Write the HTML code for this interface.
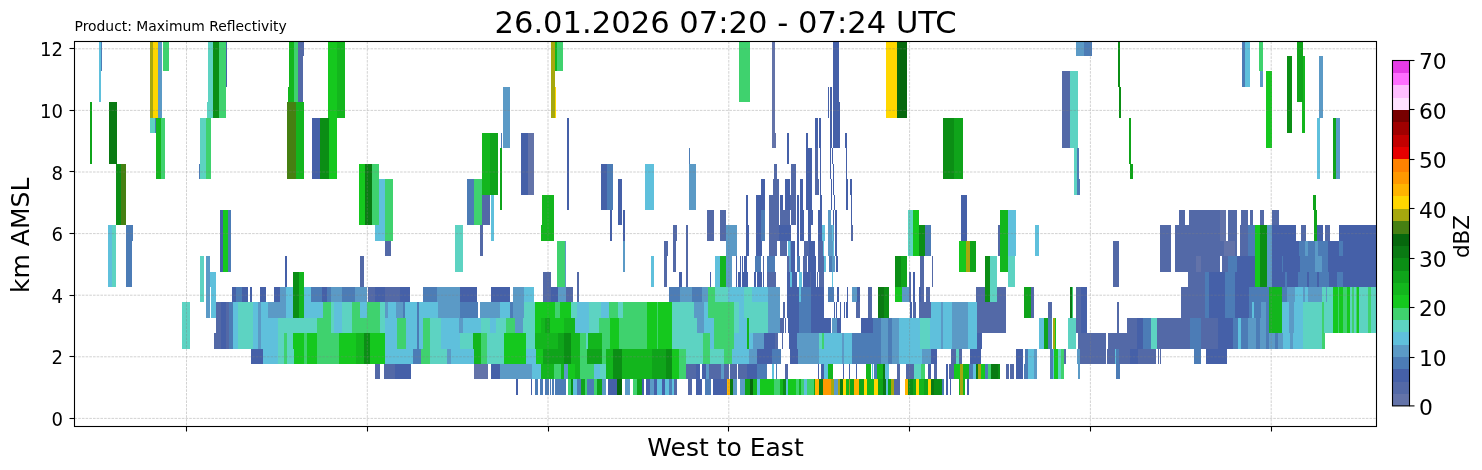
<!DOCTYPE html>
<html lang="en"><head><meta charset="utf-8"><title>Maximum Reflectivity cross-section</title>
<style>html,body{margin:0;padding:0;background:#fff}body{width:1482px;height:470px;overflow:hidden}svg{display:block}text{font-family:"DejaVu Sans","Liberation Sans",sans-serif;fill:#000}</style></head><body>
<svg width="1482" height="470" viewBox="0 0 1482 470">
<rect width="1482" height="470" fill="#fff"/>
<g shape-rendering="crispEdges">
<rect x="99" y="42" width="2" height="60" fill="#5fc0dc"/>
<rect x="101" y="42" width="1" height="29" fill="#4c7cb6"/>
<rect x="90" y="102" width="2" height="62" fill="#0fa41a"/>
<rect x="109" y="102" width="8" height="62" fill="#0a7a13"/>
<rect x="116" y="164" width="5" height="61" fill="#0b8e15"/>
<rect x="121" y="164" width="5" height="61" fill="#468012"/>
<rect x="150" y="42" width="3" height="76" fill="#a6a80e"/>
<rect x="153" y="42" width="5" height="76" fill="#ffd700"/>
<rect x="158" y="42" width="4" height="76" fill="#5b9ac6"/>
<rect x="163" y="42" width="6" height="29" fill="#3fd26e"/>
<rect x="150" y="118" width="5" height="15" fill="#5dd3c2"/>
<rect x="155" y="118" width="1" height="15" fill="#4c7cb6"/>
<rect x="156" y="118" width="5" height="61" fill="#13b61d"/>
<rect x="161" y="118" width="4" height="61" fill="#3fd26e"/>
<rect x="200" y="118" width="6" height="61" fill="#5dd3c2"/>
<rect x="206" y="118" width="5" height="61" fill="#3fd26e"/>
<rect x="199" y="164" width="1" height="15" fill="#4c7cb6"/>
<rect x="207" y="102" width="1" height="16" fill="#5dd3c2"/>
<rect x="208" y="42" width="5" height="76" fill="#5dd3c2"/>
<rect x="213" y="42" width="6" height="76" fill="#0b8e15"/>
<rect x="219" y="42" width="7" height="76" fill="#3fd26e"/>
<rect x="226" y="42" width="1" height="45" fill="#4560a8"/>
<rect x="289" y="42" width="5" height="60" fill="#13b61d"/>
<rect x="288" y="87" width="1" height="15" fill="#13b61d"/>
<rect x="294" y="42" width="4" height="60" fill="#3fd26e"/>
<rect x="298" y="42" width="5" height="60" fill="#5369a7"/>
<rect x="303" y="42" width="1" height="14" fill="#5369a7"/>
<rect x="287" y="102" width="9" height="77" fill="#468012"/>
<rect x="296" y="102" width="8" height="77" fill="#13b61d"/>
<rect x="312" y="118" width="8" height="61" fill="#4560a8"/>
<rect x="108" y="225" width="4" height="62" fill="#5fc0dc"/>
<rect x="112" y="225" width="4" height="62" fill="#5dd3c2"/>
<rect x="126" y="225" width="6" height="62" fill="#4c7cb6"/>
<rect x="132" y="225" width="1" height="16" fill="#4c7cb6"/>
<rect x="200" y="256" width="4" height="46" fill="#5dd3c2"/>
<rect x="206" y="256" width="4" height="62" fill="#5b9ac6"/>
<rect x="211" y="287" width="5" height="31" fill="#5fc0dc"/>
<rect x="210" y="272" width="6" height="15" fill="#5fc0dc"/>
<rect x="220" y="210" width="3" height="62" fill="#4560a8"/>
<rect x="223" y="210" width="5" height="62" fill="#15c81e"/>
<rect x="228" y="210" width="3" height="62" fill="#4c7cb6"/>
<rect x="285" y="256" width="2" height="31" fill="#4560a8"/>
<rect x="293" y="272" width="6" height="46" fill="#0b8e15"/>
<rect x="299" y="272" width="5" height="46" fill="#13b61d"/>
<rect x="182" y="302" width="8" height="47" fill="#5dd3c2"/>
<rect x="232" y="287" width="4" height="15" fill="#4560a8"/>
<rect x="236" y="287" width="6" height="15" fill="#4c7cb6"/>
<rect x="242" y="287" width="6" height="15" fill="#4560a8"/>
<rect x="250" y="287" width="2" height="15" fill="#4560a8"/>
<rect x="260" y="287" width="6" height="15" fill="#4560a8"/>
<rect x="274" y="287" width="6" height="15" fill="#4560a8"/>
<rect x="280" y="287" width="6" height="15" fill="#5b9ac6"/>
<rect x="286" y="287" width="7" height="15" fill="#5fc0dc"/>
<rect x="304" y="287" width="7" height="15" fill="#5fc0dc"/>
<rect x="311" y="287" width="6" height="15" fill="#4c7cb6"/>
<rect x="216" y="302" width="5" height="16" fill="#5369a7"/>
<rect x="221" y="302" width="5" height="16" fill="#4560a8"/>
<rect x="226" y="302" width="3" height="16" fill="#5369a7"/>
<rect x="229" y="302" width="4" height="16" fill="#4c7cb6"/>
<rect x="233" y="302" width="5" height="16" fill="#5fc0dc"/>
<rect x="238" y="302" width="15" height="16" fill="#5dd3c2"/>
<rect x="253" y="302" width="5" height="16" fill="#5fc0dc"/>
<rect x="258" y="302" width="3" height="16" fill="#5b9ac6"/>
<rect x="261" y="302" width="7" height="16" fill="#5fc0dc"/>
<rect x="268" y="302" width="18" height="16" fill="#5b9ac6"/>
<rect x="286" y="302" width="7" height="16" fill="#5fc0dc"/>
<rect x="304" y="302" width="13" height="16" fill="#5fc0dc"/>
<rect x="216" y="318" width="5" height="15" fill="#5369a7"/>
<rect x="221" y="318" width="5" height="15" fill="#4560a8"/>
<rect x="226" y="318" width="3" height="15" fill="#5369a7"/>
<rect x="229" y="318" width="4" height="15" fill="#4c7cb6"/>
<rect x="233" y="318" width="5" height="15" fill="#5fc0dc"/>
<rect x="238" y="318" width="15" height="15" fill="#5dd3c2"/>
<rect x="253" y="318" width="5" height="15" fill="#5fc0dc"/>
<rect x="258" y="318" width="3" height="15" fill="#5b9ac6"/>
<rect x="261" y="318" width="17" height="15" fill="#5fc0dc"/>
<rect x="278" y="318" width="39" height="15" fill="#5dd3c2"/>
<rect x="214" y="333" width="7" height="16" fill="#5369a7"/>
<rect x="221" y="333" width="5" height="16" fill="#4560a8"/>
<rect x="226" y="333" width="3" height="16" fill="#5369a7"/>
<rect x="229" y="333" width="4" height="16" fill="#4c7cb6"/>
<rect x="233" y="333" width="5" height="16" fill="#5fc0dc"/>
<rect x="238" y="333" width="15" height="16" fill="#5dd3c2"/>
<rect x="253" y="333" width="5" height="16" fill="#5fc0dc"/>
<rect x="258" y="333" width="3" height="16" fill="#5b9ac6"/>
<rect x="261" y="333" width="17" height="16" fill="#5fc0dc"/>
<rect x="278" y="333" width="6" height="16" fill="#5dd3c2"/>
<rect x="284" y="333" width="3" height="16" fill="#3fd26e"/>
<rect x="287" y="333" width="6" height="16" fill="#5dd3c2"/>
<rect x="293" y="333" width="11" height="16" fill="#15c81e"/>
<rect x="304" y="333" width="3" height="16" fill="#3fd26e"/>
<rect x="307" y="333" width="10" height="16" fill="#15c81e"/>
<rect x="251" y="349" width="12" height="15" fill="#4560a8"/>
<rect x="263" y="349" width="15" height="15" fill="#5fc0dc"/>
<rect x="278" y="349" width="6" height="15" fill="#5dd3c2"/>
<rect x="284" y="349" width="3" height="15" fill="#3fd26e"/>
<rect x="287" y="349" width="7" height="15" fill="#5dd3c2"/>
<rect x="294" y="349" width="10" height="15" fill="#15c81e"/>
<rect x="304" y="349" width="3" height="15" fill="#3fd26e"/>
<rect x="307" y="349" width="10" height="15" fill="#15c81e"/>
<rect x="328" y="42" width="9" height="76" fill="#15c81e"/>
<rect x="337" y="42" width="8" height="76" fill="#13b61d"/>
<rect x="320" y="118" width="9" height="61" fill="#0b8e15"/>
<rect x="329" y="118" width="8" height="61" fill="#15c81e"/>
<rect x="503" y="87" width="7" height="61" fill="#5b9ac6"/>
<rect x="551" y="42" width="4" height="45" fill="#a6a80e"/>
<rect x="551" y="87" width="4" height="31" fill="#a6a80e"/>
<rect x="555" y="87" width="1" height="31" fill="#ffd700"/>
<rect x="555" y="42" width="2" height="29" fill="#13b61d"/>
<rect x="557" y="42" width="6" height="29" fill="#3fd26e"/>
<rect x="359" y="164" width="6" height="61" fill="#15c81e"/>
<rect x="365" y="164" width="7" height="61" fill="#0a7a13"/>
<rect x="372" y="164" width="7" height="61" fill="#3fd26e"/>
<rect x="379" y="179" width="6" height="62" fill="#5fc0dc"/>
<rect x="375" y="225" width="4" height="16" fill="#5fc0dc"/>
<rect x="385" y="179" width="8" height="62" fill="#3fd26e"/>
<rect x="385" y="241" width="6" height="15" fill="#5369a7"/>
<rect x="360" y="256" width="4" height="31" fill="#5369a7"/>
<rect x="455" y="225" width="8" height="47" fill="#5dd3c2"/>
<rect x="467" y="179" width="7" height="46" fill="#4c7cb6"/>
<rect x="474" y="179" width="8" height="46" fill="#3fd26e"/>
<rect x="482" y="195" width="8" height="30" fill="#5369a7"/>
<rect x="482" y="133" width="8" height="62" fill="#13b61d"/>
<rect x="490" y="133" width="8" height="62" fill="#0fa41a"/>
<rect x="480" y="225" width="3" height="31" fill="#5369a7"/>
<rect x="491" y="195" width="3" height="46" fill="#5fc0dc"/>
<rect x="500" y="148" width="2" height="62" fill="#0fa41a"/>
<rect x="501" y="133" width="1" height="15" fill="#4c7cb6"/>
<rect x="521" y="133" width="7" height="62" fill="#4560a8"/>
<rect x="528" y="133" width="6" height="62" fill="#6373a9"/>
<rect x="542" y="195" width="12" height="30" fill="#13b61d"/>
<rect x="541" y="225" width="13" height="16" fill="#13b61d"/>
<rect x="557" y="241" width="8" height="46" fill="#3fd26e"/>
<rect x="565" y="241" width="1" height="61" fill="#5b9ac6"/>
<rect x="543" y="272" width="8" height="15" fill="#5369a7"/>
<rect x="317" y="287" width="5" height="15" fill="#4c7cb6"/>
<rect x="322" y="287" width="5" height="15" fill="#4560a8"/>
<rect x="327" y="287" width="4" height="15" fill="#4c7cb6"/>
<rect x="331" y="287" width="11" height="15" fill="#5b9ac6"/>
<rect x="342" y="287" width="7" height="15" fill="#4c7cb6"/>
<rect x="349" y="287" width="6" height="15" fill="#4c7cb6"/>
<rect x="355" y="287" width="12" height="15" fill="#5b9ac6"/>
<rect x="368" y="287" width="7" height="15" fill="#5369a7"/>
<rect x="375" y="287" width="10" height="15" fill="#4560a8"/>
<rect x="385" y="287" width="15" height="15" fill="#5369a7"/>
<rect x="400" y="287" width="10" height="15" fill="#4560a8"/>
<rect x="423" y="287" width="14" height="15" fill="#4c7cb6"/>
<rect x="437" y="287" width="23" height="15" fill="#5b9ac6"/>
<rect x="460" y="287" width="17" height="15" fill="#4560a8"/>
<rect x="491" y="287" width="19" height="15" fill="#4560a8"/>
<rect x="513" y="287" width="11" height="15" fill="#5b9ac6"/>
<rect x="524" y="287" width="10" height="15" fill="#5fc0dc"/>
<rect x="543" y="287" width="8" height="15" fill="#5369a7"/>
<rect x="551" y="287" width="7" height="15" fill="#4560a8"/>
<rect x="558" y="287" width="6" height="15" fill="#5b9ac6"/>
<rect x="317" y="302" width="6" height="16" fill="#5fc0dc"/>
<rect x="323" y="302" width="8" height="16" fill="#3fd26e"/>
<rect x="331" y="302" width="3" height="16" fill="#5dd3c2"/>
<rect x="334" y="302" width="8" height="16" fill="#5fc0dc"/>
<rect x="342" y="302" width="10" height="16" fill="#5dd3c2"/>
<rect x="352" y="302" width="8" height="16" fill="#3fd26e"/>
<rect x="360" y="302" width="7" height="16" fill="#5fc0dc"/>
<rect x="367" y="302" width="13" height="16" fill="#3fd26e"/>
<rect x="380" y="302" width="5" height="16" fill="#5dd3c2"/>
<rect x="385" y="302" width="3" height="16" fill="#5b9ac6"/>
<rect x="388" y="302" width="8" height="16" fill="#5fc0dc"/>
<rect x="396" y="302" width="7" height="16" fill="#5b9ac6"/>
<rect x="403" y="302" width="2" height="16" fill="#4c7cb6"/>
<rect x="405" y="302" width="12" height="16" fill="#5fc0dc"/>
<rect x="417" y="302" width="2" height="16" fill="#4c7cb6"/>
<rect x="419" y="302" width="19" height="16" fill="#5fc0dc"/>
<rect x="438" y="302" width="22" height="16" fill="#5b9ac6"/>
<rect x="460" y="302" width="18" height="16" fill="#4c7cb6"/>
<rect x="480" y="302" width="20" height="16" fill="#5b9ac6"/>
<rect x="500" y="302" width="10" height="16" fill="#5fc0dc"/>
<rect x="510" y="302" width="3" height="16" fill="#4c7cb6"/>
<rect x="513" y="302" width="11" height="16" fill="#5b9ac6"/>
<rect x="524" y="302" width="11" height="16" fill="#5dd3c2"/>
<rect x="535" y="302" width="20" height="16" fill="#15c81e"/>
<rect x="555" y="302" width="5" height="16" fill="#3fd26e"/>
<rect x="560" y="302" width="4" height="16" fill="#15c81e"/>
<rect x="317" y="318" width="14" height="15" fill="#3fd26e"/>
<rect x="331" y="318" width="3" height="15" fill="#5dd3c2"/>
<rect x="334" y="318" width="8" height="15" fill="#5fc0dc"/>
<rect x="342" y="318" width="10" height="15" fill="#5dd3c2"/>
<rect x="352" y="318" width="28" height="15" fill="#3fd26e"/>
<rect x="380" y="318" width="5" height="15" fill="#5dd3c2"/>
<rect x="385" y="318" width="12" height="15" fill="#5fc0dc"/>
<rect x="397" y="318" width="9" height="15" fill="#3fd26e"/>
<rect x="406" y="318" width="11" height="15" fill="#5fc0dc"/>
<rect x="417" y="318" width="2" height="15" fill="#4c7cb6"/>
<rect x="419" y="318" width="4" height="15" fill="#5fc0dc"/>
<rect x="423" y="318" width="7" height="15" fill="#3fd26e"/>
<rect x="430" y="318" width="11" height="15" fill="#5dd3c2"/>
<rect x="441" y="318" width="18" height="15" fill="#5fc0dc"/>
<rect x="459" y="318" width="4" height="15" fill="#5b9ac6"/>
<rect x="463" y="318" width="18" height="15" fill="#5fc0dc"/>
<rect x="481" y="318" width="9" height="15" fill="#5dd3c2"/>
<rect x="490" y="318" width="6" height="15" fill="#5fc0dc"/>
<rect x="496" y="318" width="10" height="15" fill="#5dd3c2"/>
<rect x="506" y="318" width="9" height="15" fill="#3fd26e"/>
<rect x="515" y="318" width="8" height="15" fill="#5b9ac6"/>
<rect x="523" y="318" width="12" height="15" fill="#5dd3c2"/>
<rect x="535" y="318" width="6" height="15" fill="#15c81e"/>
<rect x="541" y="318" width="4" height="15" fill="#13b61d"/>
<rect x="545" y="318" width="5" height="15" fill="#0fa41a"/>
<rect x="550" y="318" width="14" height="15" fill="#15c81e"/>
<rect x="317" y="333" width="22" height="16" fill="#3fd26e"/>
<rect x="339" y="333" width="17" height="16" fill="#15c81e"/>
<rect x="356" y="333" width="8" height="16" fill="#13b61d"/>
<rect x="364" y="333" width="6" height="16" fill="#0b8e15"/>
<rect x="370" y="333" width="15" height="16" fill="#15c81e"/>
<rect x="385" y="333" width="12" height="16" fill="#5fc0dc"/>
<rect x="397" y="333" width="9" height="16" fill="#3fd26e"/>
<rect x="406" y="333" width="11" height="16" fill="#5fc0dc"/>
<rect x="417" y="333" width="2" height="16" fill="#4c7cb6"/>
<rect x="419" y="333" width="4" height="16" fill="#5fc0dc"/>
<rect x="423" y="333" width="7" height="16" fill="#3fd26e"/>
<rect x="430" y="333" width="11" height="16" fill="#5dd3c2"/>
<rect x="441" y="333" width="19" height="16" fill="#5fc0dc"/>
<rect x="460" y="333" width="13" height="16" fill="#5dd3c2"/>
<rect x="473" y="333" width="8" height="16" fill="#13b61d"/>
<rect x="481" y="333" width="6" height="16" fill="#3fd26e"/>
<rect x="487" y="333" width="17" height="16" fill="#5dd3c2"/>
<rect x="504" y="333" width="22" height="16" fill="#15c81e"/>
<rect x="526" y="333" width="9" height="16" fill="#5dd3c2"/>
<rect x="535" y="333" width="15" height="16" fill="#13b61d"/>
<rect x="550" y="333" width="8" height="16" fill="#13b61d"/>
<rect x="558" y="333" width="6" height="16" fill="#0fa41a"/>
<rect x="317" y="349" width="22" height="15" fill="#3fd26e"/>
<rect x="339" y="349" width="17" height="15" fill="#15c81e"/>
<rect x="356" y="349" width="8" height="15" fill="#13b61d"/>
<rect x="364" y="349" width="6" height="15" fill="#0b8e15"/>
<rect x="370" y="349" width="15" height="15" fill="#15c81e"/>
<rect x="385" y="349" width="28" height="15" fill="#5fc0dc"/>
<rect x="413" y="349" width="8" height="15" fill="#4c7cb6"/>
<rect x="421" y="349" width="9" height="15" fill="#3fd26e"/>
<rect x="430" y="349" width="17" height="15" fill="#5dd3c2"/>
<rect x="447" y="349" width="4" height="15" fill="#5b9ac6"/>
<rect x="451" y="349" width="23" height="15" fill="#5fc0dc"/>
<rect x="474" y="349" width="7" height="15" fill="#13b61d"/>
<rect x="481" y="349" width="6" height="15" fill="#3fd26e"/>
<rect x="487" y="349" width="17" height="15" fill="#5dd3c2"/>
<rect x="504" y="349" width="22" height="15" fill="#15c81e"/>
<rect x="526" y="349" width="10" height="15" fill="#5fc0dc"/>
<rect x="536" y="349" width="7" height="15" fill="#15c81e"/>
<rect x="543" y="349" width="21" height="15" fill="#0fa41a"/>
<rect x="375" y="364" width="5" height="15" fill="#5369a7"/>
<rect x="384" y="364" width="11" height="15" fill="#5369a7"/>
<rect x="395" y="364" width="16" height="15" fill="#4560a8"/>
<rect x="474" y="364" width="14" height="15" fill="#6373a9"/>
<rect x="491" y="364" width="9" height="15" fill="#4560a8"/>
<rect x="500" y="364" width="32" height="15" fill="#5b9ac6"/>
<rect x="532" y="364" width="9" height="15" fill="#5fc0dc"/>
<rect x="541" y="364" width="13" height="15" fill="#13b61d"/>
<rect x="554" y="364" width="7" height="15" fill="#3fd26e"/>
<rect x="561" y="364" width="3" height="15" fill="#13b61d"/>
<rect x="516" y="379" width="2" height="16" fill="#4560a8"/>
<rect x="531" y="379" width="1" height="16" fill="#4560a8"/>
<rect x="535" y="379" width="3" height="16" fill="#4c7cb6"/>
<rect x="540" y="379" width="3" height="16" fill="#4c7cb6"/>
<rect x="545" y="379" width="4" height="16" fill="#4c7cb6"/>
<rect x="550" y="379" width="1" height="16" fill="#4c7cb6"/>
<rect x="552" y="379" width="2" height="16" fill="#4c7cb6"/>
<rect x="555" y="379" width="9" height="16" fill="#4c7cb6"/>
<rect x="739" y="42" width="11" height="60" fill="#3fd26e"/>
<rect x="772" y="42" width="3" height="91" fill="#6373a9"/>
<rect x="772" y="133" width="4" height="15" fill="#6373a9"/>
<rect x="567" y="118" width="2" height="92" fill="#4560a8"/>
<rect x="567" y="164" width="2" height="15" fill="#4560a8"/>
<rect x="601" y="164" width="6" height="46" fill="#4560a8"/>
<rect x="607" y="164" width="6" height="46" fill="#4c7cb6"/>
<rect x="610" y="210" width="2" height="31" fill="#4560a8"/>
<rect x="618" y="179" width="4" height="46" fill="#4560a8"/>
<rect x="623" y="210" width="2" height="31" fill="#4560a8"/>
<rect x="623" y="241" width="2" height="31" fill="#5b9ac6"/>
<rect x="645" y="164" width="9" height="46" fill="#5fc0dc"/>
<rect x="689" y="164" width="7" height="46" fill="#5b9ac6"/>
<rect x="689" y="148" width="1" height="16" fill="#4c7cb6"/>
<rect x="651" y="256" width="3" height="31" fill="#5fc0dc"/>
<rect x="664" y="241" width="4" height="15" fill="#5369a7"/>
<rect x="664" y="256" width="3" height="31" fill="#5369a7"/>
<rect x="673" y="225" width="4" height="16" fill="#5369a7"/>
<rect x="673" y="241" width="3" height="31" fill="#5369a7"/>
<rect x="679" y="272" width="3" height="15" fill="#4560a8"/>
<rect x="686" y="225" width="2" height="62" fill="#5369a7"/>
<rect x="707" y="210" width="7" height="31" fill="#5369a7"/>
<rect x="720" y="210" width="6" height="31" fill="#5369a7"/>
<rect x="726" y="225" width="11" height="31" fill="#5b9ac6"/>
<rect x="726" y="256" width="6" height="31" fill="#5b9ac6"/>
<rect x="715" y="256" width="5" height="31" fill="#5fc0dc"/>
<rect x="720" y="256" width="6" height="31" fill="#13b61d"/>
<rect x="710" y="272" width="1" height="15" fill="#4560a8"/>
<rect x="577" y="272" width="2" height="30" fill="#5369a7"/>
<rect x="736" y="256" width="1" height="16" fill="#4560a8"/>
<rect x="740" y="256" width="1" height="16" fill="#4560a8"/>
<rect x="742" y="256" width="1" height="16" fill="#4560a8"/>
<rect x="744" y="256" width="2" height="16" fill="#4560a8"/>
<rect x="736" y="272" width="1" height="15" fill="#4560a8"/>
<rect x="738" y="272" width="3" height="15" fill="#4560a8"/>
<rect x="742" y="272" width="6" height="15" fill="#4560a8"/>
<rect x="754" y="272" width="2" height="15" fill="#4560a8"/>
<rect x="757" y="272" width="5" height="15" fill="#4560a8"/>
<rect x="763" y="272" width="1" height="15" fill="#4560a8"/>
<rect x="767" y="272" width="9" height="15" fill="#5369a7"/>
<rect x="787" y="272" width="3" height="15" fill="#4560a8"/>
<rect x="790" y="272" width="2" height="15" fill="#5fc0dc"/>
<rect x="792" y="272" width="5" height="15" fill="#4560a8"/>
<rect x="799" y="272" width="3" height="15" fill="#5fc0dc"/>
<rect x="803" y="272" width="7" height="15" fill="#4560a8"/>
<rect x="810" y="272" width="1" height="15" fill="#5369a7"/>
<rect x="564" y="287" width="2" height="15" fill="#5b9ac6"/>
<rect x="566" y="287" width="7" height="15" fill="#5369a7"/>
<rect x="669" y="287" width="11" height="15" fill="#4c7cb6"/>
<rect x="680" y="287" width="12" height="15" fill="#5b9ac6"/>
<rect x="692" y="287" width="10" height="15" fill="#4c7cb6"/>
<rect x="702" y="287" width="6" height="15" fill="#5b9ac6"/>
<rect x="708" y="287" width="7" height="15" fill="#3fd26e"/>
<rect x="715" y="287" width="13" height="15" fill="#5dd3c2"/>
<rect x="728" y="287" width="16" height="15" fill="#5fc0dc"/>
<rect x="744" y="287" width="8" height="15" fill="#5dd3c2"/>
<rect x="752" y="287" width="16" height="15" fill="#5fc0dc"/>
<rect x="768" y="287" width="12" height="15" fill="#5b9ac6"/>
<rect x="787" y="287" width="12" height="15" fill="#4560a8"/>
<rect x="799" y="287" width="2" height="15" fill="#5fc0dc"/>
<rect x="801" y="287" width="10" height="15" fill="#4c7cb6"/>
<rect x="564" y="302" width="7" height="16" fill="#15c81e"/>
<rect x="571" y="302" width="6" height="16" fill="#5dd3c2"/>
<rect x="577" y="302" width="12" height="16" fill="#5fc0dc"/>
<rect x="589" y="302" width="12" height="16" fill="#5dd3c2"/>
<rect x="601" y="302" width="8" height="16" fill="#5fc0dc"/>
<rect x="609" y="302" width="9" height="16" fill="#3fd26e"/>
<rect x="618" y="302" width="5" height="16" fill="#5dd3c2"/>
<rect x="623" y="302" width="24" height="16" fill="#3fd26e"/>
<rect x="647" y="302" width="10" height="16" fill="#15c81e"/>
<rect x="657" y="302" width="1" height="16" fill="#3fd26e"/>
<rect x="658" y="302" width="14" height="16" fill="#15c81e"/>
<rect x="672" y="302" width="22" height="16" fill="#5dd3c2"/>
<rect x="694" y="302" width="10" height="16" fill="#5b9ac6"/>
<rect x="704" y="302" width="4" height="16" fill="#5fc0dc"/>
<rect x="708" y="302" width="26" height="16" fill="#3fd26e"/>
<rect x="734" y="302" width="5" height="16" fill="#5dd3c2"/>
<rect x="739" y="302" width="5" height="16" fill="#5fc0dc"/>
<rect x="744" y="302" width="24" height="16" fill="#5dd3c2"/>
<rect x="768" y="302" width="12" height="16" fill="#5b9ac6"/>
<rect x="783" y="302" width="2" height="16" fill="#5369a7"/>
<rect x="787" y="302" width="12" height="16" fill="#4560a8"/>
<rect x="799" y="302" width="12" height="16" fill="#4c7cb6"/>
<rect x="564" y="318" width="11" height="15" fill="#13b61d"/>
<rect x="575" y="318" width="14" height="15" fill="#5fc0dc"/>
<rect x="589" y="318" width="10" height="15" fill="#5dd3c2"/>
<rect x="599" y="318" width="11" height="15" fill="#3fd26e"/>
<rect x="610" y="318" width="9" height="15" fill="#15c81e"/>
<rect x="619" y="318" width="28" height="15" fill="#3fd26e"/>
<rect x="647" y="318" width="10" height="15" fill="#15c81e"/>
<rect x="657" y="318" width="1" height="15" fill="#3fd26e"/>
<rect x="658" y="318" width="14" height="15" fill="#15c81e"/>
<rect x="672" y="318" width="25" height="15" fill="#5dd3c2"/>
<rect x="697" y="318" width="7" height="15" fill="#5b9ac6"/>
<rect x="704" y="318" width="10" height="15" fill="#5fc0dc"/>
<rect x="714" y="318" width="20" height="15" fill="#3fd26e"/>
<rect x="734" y="318" width="5" height="15" fill="#5dd3c2"/>
<rect x="739" y="318" width="8" height="15" fill="#5fc0dc"/>
<rect x="747" y="318" width="2" height="15" fill="#13b61d"/>
<rect x="749" y="318" width="19" height="15" fill="#5dd3c2"/>
<rect x="768" y="318" width="12" height="15" fill="#5b9ac6"/>
<rect x="780" y="318" width="4" height="15" fill="#5369a7"/>
<rect x="785" y="318" width="1" height="15" fill="#5369a7"/>
<rect x="788" y="318" width="11" height="15" fill="#4560a8"/>
<rect x="799" y="318" width="12" height="15" fill="#4c7cb6"/>
<rect x="564" y="333" width="7" height="16" fill="#0b8e15"/>
<rect x="571" y="333" width="9" height="16" fill="#13b61d"/>
<rect x="580" y="333" width="6" height="16" fill="#3fd26e"/>
<rect x="586" y="333" width="2" height="16" fill="#5dd3c2"/>
<rect x="588" y="333" width="14" height="16" fill="#13b61d"/>
<rect x="602" y="333" width="8" height="16" fill="#3fd26e"/>
<rect x="610" y="333" width="9" height="16" fill="#15c81e"/>
<rect x="619" y="333" width="28" height="16" fill="#3fd26e"/>
<rect x="647" y="333" width="10" height="16" fill="#15c81e"/>
<rect x="657" y="333" width="1" height="16" fill="#3fd26e"/>
<rect x="658" y="333" width="14" height="16" fill="#15c81e"/>
<rect x="672" y="333" width="31" height="16" fill="#5dd3c2"/>
<rect x="703" y="333" width="7" height="16" fill="#3fd26e"/>
<rect x="710" y="333" width="4" height="16" fill="#5fc0dc"/>
<rect x="714" y="333" width="20" height="16" fill="#3fd26e"/>
<rect x="734" y="333" width="13" height="16" fill="#5fc0dc"/>
<rect x="747" y="333" width="2" height="16" fill="#13b61d"/>
<rect x="749" y="333" width="4" height="16" fill="#5fc0dc"/>
<rect x="753" y="333" width="11" height="16" fill="#5b9ac6"/>
<rect x="764" y="333" width="11" height="16" fill="#4560a8"/>
<rect x="775" y="333" width="3" height="16" fill="#5369a7"/>
<rect x="782" y="333" width="1" height="16" fill="#5369a7"/>
<rect x="789" y="333" width="8" height="16" fill="#4560a8"/>
<rect x="797" y="333" width="14" height="16" fill="#5b9ac6"/>
<rect x="564" y="349" width="7" height="15" fill="#0b8e15"/>
<rect x="571" y="349" width="9" height="15" fill="#13b61d"/>
<rect x="580" y="349" width="7" height="15" fill="#3fd26e"/>
<rect x="587" y="349" width="15" height="15" fill="#0fa41a"/>
<rect x="602" y="349" width="4" height="15" fill="#3fd26e"/>
<rect x="606" y="349" width="7" height="15" fill="#13b61d"/>
<rect x="613" y="349" width="9" height="15" fill="#0b8e15"/>
<rect x="622" y="349" width="30" height="15" fill="#13b61d"/>
<rect x="652" y="349" width="14" height="15" fill="#0fa41a"/>
<rect x="666" y="349" width="6" height="15" fill="#0b8e15"/>
<rect x="672" y="349" width="7" height="15" fill="#15c81e"/>
<rect x="679" y="349" width="7" height="15" fill="#3fd26e"/>
<rect x="686" y="349" width="17" height="15" fill="#5dd3c2"/>
<rect x="703" y="349" width="7" height="15" fill="#3fd26e"/>
<rect x="710" y="349" width="14" height="15" fill="#5dd3c2"/>
<rect x="724" y="349" width="8" height="15" fill="#3fd26e"/>
<rect x="732" y="349" width="17" height="15" fill="#5fc0dc"/>
<rect x="749" y="349" width="8" height="15" fill="#5b9ac6"/>
<rect x="757" y="349" width="15" height="15" fill="#4560a8"/>
<rect x="772" y="349" width="9" height="15" fill="#4c7cb6"/>
<rect x="790" y="349" width="8" height="15" fill="#4560a8"/>
<rect x="798" y="349" width="13" height="15" fill="#5b9ac6"/>
<rect x="564" y="364" width="4" height="15" fill="#5b9ac6"/>
<rect x="568" y="364" width="7" height="15" fill="#15c81e"/>
<rect x="575" y="364" width="5" height="15" fill="#13b61d"/>
<rect x="580" y="364" width="14" height="15" fill="#3fd26e"/>
<rect x="594" y="364" width="6" height="15" fill="#5fc0dc"/>
<rect x="600" y="364" width="6" height="15" fill="#5dd3c2"/>
<rect x="606" y="364" width="7" height="15" fill="#13b61d"/>
<rect x="613" y="364" width="9" height="15" fill="#0b8e15"/>
<rect x="622" y="364" width="30" height="15" fill="#13b61d"/>
<rect x="652" y="364" width="14" height="15" fill="#0fa41a"/>
<rect x="666" y="364" width="6" height="15" fill="#0b8e15"/>
<rect x="672" y="364" width="7" height="15" fill="#15c81e"/>
<rect x="679" y="364" width="7" height="15" fill="#3fd26e"/>
<rect x="686" y="364" width="10" height="15" fill="#5369a7"/>
<rect x="696" y="364" width="4" height="15" fill="#4560a8"/>
<rect x="702" y="364" width="4" height="15" fill="#4560a8"/>
<rect x="706" y="364" width="3" height="15" fill="#5b9ac6"/>
<rect x="709" y="364" width="12" height="15" fill="#5369a7"/>
<rect x="721" y="364" width="3" height="15" fill="#5b9ac6"/>
<rect x="724" y="364" width="5" height="15" fill="#5369a7"/>
<rect x="730" y="364" width="7" height="15" fill="#5369a7"/>
<rect x="738" y="364" width="9" height="15" fill="#5369a7"/>
<rect x="747" y="364" width="10" height="15" fill="#4560a8"/>
<rect x="757" y="364" width="10" height="15" fill="#4c7cb6"/>
<rect x="772" y="364" width="2" height="15" fill="#5fc0dc"/>
<rect x="776" y="364" width="1" height="15" fill="#4c7cb6"/>
<rect x="785" y="364" width="3" height="15" fill="#5369a7"/>
<rect x="564" y="379" width="2" height="16" fill="#4c7cb6"/>
<rect x="568" y="379" width="3" height="16" fill="#3fd26e"/>
<rect x="571" y="379" width="2" height="16" fill="#0b8e15"/>
<rect x="573" y="379" width="4" height="16" fill="#5fc0dc"/>
<rect x="577" y="379" width="4" height="16" fill="#4c7cb6"/>
<rect x="581" y="379" width="4" height="16" fill="#0fa41a"/>
<rect x="585" y="379" width="2" height="16" fill="#3fd26e"/>
<rect x="587" y="379" width="7" height="16" fill="#4c7cb6"/>
<rect x="594" y="379" width="3" height="16" fill="#3fd26e"/>
<rect x="597" y="379" width="5" height="16" fill="#0fa41a"/>
<rect x="602" y="379" width="4" height="16" fill="#5b9ac6"/>
<rect x="608" y="379" width="9" height="16" fill="#4560a8"/>
<rect x="617" y="379" width="5" height="16" fill="#06680d"/>
<rect x="625" y="379" width="5" height="16" fill="#5b9ac6"/>
<rect x="633" y="379" width="4" height="16" fill="#3fd26e"/>
<rect x="637" y="379" width="5" height="16" fill="#0fa41a"/>
<rect x="642" y="379" width="2" height="16" fill="#4560a8"/>
<rect x="646" y="379" width="4" height="16" fill="#4560a8"/>
<rect x="650" y="379" width="4" height="16" fill="#5b9ac6"/>
<rect x="654" y="379" width="3" height="16" fill="#4560a8"/>
<rect x="657" y="379" width="5" height="16" fill="#5fc0dc"/>
<rect x="662" y="379" width="3" height="16" fill="#4560a8"/>
<rect x="665" y="379" width="4" height="16" fill="#5fc0dc"/>
<rect x="669" y="379" width="3" height="16" fill="#4c7cb6"/>
<rect x="672" y="379" width="2" height="16" fill="#5fc0dc"/>
<rect x="674" y="379" width="3" height="16" fill="#5369a7"/>
<rect x="688" y="379" width="4" height="16" fill="#5369a7"/>
<rect x="696" y="379" width="6" height="16" fill="#4560a8"/>
<rect x="705" y="379" width="6" height="16" fill="#4c7cb6"/>
<rect x="713" y="379" width="14" height="16" fill="#4560a8"/>
<rect x="727" y="379" width="3" height="16" fill="#ffb400"/>
<rect x="730" y="379" width="3" height="16" fill="#0a7a13"/>
<rect x="733" y="379" width="4" height="16" fill="#5b9ac6"/>
<rect x="740" y="379" width="5" height="16" fill="#5b9ac6"/>
<rect x="745" y="379" width="5" height="16" fill="#0fa41a"/>
<rect x="750" y="379" width="3" height="16" fill="#06680d"/>
<rect x="753" y="379" width="4" height="16" fill="#13b61d"/>
<rect x="757" y="379" width="3" height="16" fill="#5fc0dc"/>
<rect x="760" y="379" width="14" height="16" fill="#15c81e"/>
<rect x="774" y="379" width="6" height="16" fill="#3fd26e"/>
<rect x="780" y="379" width="3" height="16" fill="#13b61d"/>
<rect x="783" y="379" width="3" height="16" fill="#0b8e15"/>
<rect x="786" y="379" width="2" height="16" fill="#5fc0dc"/>
<rect x="788" y="379" width="8" height="16" fill="#15c81e"/>
<rect x="796" y="379" width="3" height="16" fill="#3fd26e"/>
<rect x="799" y="379" width="2" height="16" fill="#13b61d"/>
<rect x="801" y="379" width="3" height="16" fill="#3fd26e"/>
<rect x="804" y="379" width="3" height="16" fill="#5fc0dc"/>
<rect x="807" y="379" width="4" height="16" fill="#3fd26e"/>
<rect x="833" y="42" width="6" height="106" fill="#4560a8"/>
<rect x="839" y="102" width="1" height="46" fill="#4560a8"/>
<rect x="828" y="87" width="1" height="31" fill="#4560a8"/>
<rect x="830" y="87" width="2" height="31" fill="#4560a8"/>
<rect x="886" y="42" width="11" height="76" fill="#ffd700"/>
<rect x="897" y="42" width="10" height="76" fill="#06680d"/>
<rect x="851" y="225" width="2" height="16" fill="#5369a7"/>
<rect x="943" y="118" width="11" height="61" fill="#0b8e15"/>
<rect x="954" y="118" width="9" height="61" fill="#0fa41a"/>
<rect x="908" y="210" width="5" height="46" fill="#5dd3c2"/>
<rect x="913" y="210" width="6" height="46" fill="#15c81e"/>
<rect x="919" y="225" width="6" height="31" fill="#0b8e15"/>
<rect x="925" y="225" width="6" height="31" fill="#4c7cb6"/>
<rect x="895" y="256" width="6" height="31" fill="#0b8e15"/>
<rect x="901" y="256" width="6" height="31" fill="#0fa41a"/>
<rect x="920" y="256" width="4" height="46" fill="#5369a7"/>
<rect x="932" y="256" width="1" height="31" fill="#5369a7"/>
<rect x="961" y="195" width="6" height="46" fill="#4560a8"/>
<rect x="959" y="241" width="7" height="31" fill="#15c81e"/>
<rect x="966" y="241" width="4" height="31" fill="#a6a80e"/>
<rect x="970" y="241" width="6" height="31" fill="#0fa41a"/>
<rect x="985" y="256" width="5" height="46" fill="#0b8e15"/>
<rect x="990" y="256" width="7" height="46" fill="#5dd3c2"/>
<rect x="998" y="225" width="2" height="31" fill="#5369a7"/>
<rect x="1000" y="210" width="8" height="62" fill="#13b61d"/>
<rect x="1008" y="210" width="8" height="46" fill="#5fc0dc"/>
<rect x="1008" y="256" width="7" height="31" fill="#5dd3c2"/>
<rect x="1035" y="225" width="4" height="31" fill="#5fc0dc"/>
<rect x="811" y="272" width="5" height="15" fill="#4560a8"/>
<rect x="817" y="272" width="1" height="15" fill="#5369a7"/>
<rect x="819" y="272" width="5" height="15" fill="#5369a7"/>
<rect x="832" y="272" width="1" height="15" fill="#5fc0dc"/>
<rect x="909" y="272" width="2" height="15" fill="#5369a7"/>
<rect x="913" y="272" width="2" height="15" fill="#4560a8"/>
<rect x="811" y="287" width="13" height="15" fill="#4560a8"/>
<rect x="828" y="287" width="6" height="15" fill="#4c7cb6"/>
<rect x="837" y="287" width="2" height="15" fill="#4560a8"/>
<rect x="847" y="287" width="1" height="15" fill="#4560a8"/>
<rect x="852" y="287" width="5" height="15" fill="#5b9ac6"/>
<rect x="857" y="287" width="3" height="15" fill="#4560a8"/>
<rect x="868" y="287" width="4" height="15" fill="#5369a7"/>
<rect x="878" y="287" width="6" height="15" fill="#0a7a13"/>
<rect x="884" y="287" width="5" height="15" fill="#0b8e15"/>
<rect x="895" y="287" width="7" height="15" fill="#15c81e"/>
<rect x="902" y="287" width="7" height="15" fill="#5b9ac6"/>
<rect x="909" y="287" width="2" height="15" fill="#5369a7"/>
<rect x="913" y="287" width="2" height="15" fill="#4560a8"/>
<rect x="919" y="287" width="2" height="15" fill="#4560a8"/>
<rect x="926" y="287" width="4" height="15" fill="#5369a7"/>
<rect x="976" y="287" width="9" height="15" fill="#5369a7"/>
<rect x="997" y="287" width="9" height="15" fill="#5369a7"/>
<rect x="1024" y="287" width="7" height="15" fill="#0fa41a"/>
<rect x="1031" y="287" width="3" height="15" fill="#5369a7"/>
<rect x="811" y="302" width="13" height="16" fill="#4560a8"/>
<rect x="834" y="302" width="1" height="16" fill="#4560a8"/>
<rect x="836" y="302" width="1" height="16" fill="#4560a8"/>
<rect x="840" y="302" width="1" height="16" fill="#4560a8"/>
<rect x="844" y="302" width="1" height="16" fill="#4560a8"/>
<rect x="846" y="302" width="2" height="16" fill="#4560a8"/>
<rect x="856" y="302" width="4" height="16" fill="#5369a7"/>
<rect x="868" y="302" width="4" height="16" fill="#5369a7"/>
<rect x="878" y="302" width="6" height="16" fill="#0a7a13"/>
<rect x="884" y="302" width="5" height="16" fill="#0b8e15"/>
<rect x="910" y="302" width="2" height="16" fill="#4560a8"/>
<rect x="913" y="302" width="3" height="16" fill="#5369a7"/>
<rect x="919" y="302" width="12" height="16" fill="#5369a7"/>
<rect x="931" y="302" width="10" height="16" fill="#5fc0dc"/>
<rect x="941" y="302" width="2" height="16" fill="#5b9ac6"/>
<rect x="943" y="302" width="9" height="16" fill="#5fc0dc"/>
<rect x="952" y="302" width="16" height="16" fill="#5b9ac6"/>
<rect x="968" y="302" width="9" height="16" fill="#5fc0dc"/>
<rect x="977" y="302" width="29" height="16" fill="#5369a7"/>
<rect x="1024" y="302" width="7" height="16" fill="#0fa41a"/>
<rect x="1031" y="302" width="3" height="16" fill="#5369a7"/>
<rect x="1048" y="302" width="4" height="16" fill="#5369a7"/>
<rect x="811" y="318" width="20" height="15" fill="#4560a8"/>
<rect x="832" y="318" width="5" height="15" fill="#5b9ac6"/>
<rect x="837" y="318" width="4" height="15" fill="#4560a8"/>
<rect x="861" y="318" width="12" height="15" fill="#4560a8"/>
<rect x="873" y="318" width="8" height="15" fill="#4c7cb6"/>
<rect x="881" y="318" width="7" height="15" fill="#5b9ac6"/>
<rect x="888" y="318" width="4" height="15" fill="#4c7cb6"/>
<rect x="892" y="318" width="7" height="15" fill="#5b9ac6"/>
<rect x="899" y="318" width="21" height="15" fill="#5fc0dc"/>
<rect x="920" y="318" width="10" height="15" fill="#5dd3c2"/>
<rect x="930" y="318" width="11" height="15" fill="#5fc0dc"/>
<rect x="941" y="318" width="2" height="15" fill="#5b9ac6"/>
<rect x="943" y="318" width="9" height="15" fill="#5fc0dc"/>
<rect x="952" y="318" width="16" height="15" fill="#5b9ac6"/>
<rect x="968" y="318" width="9" height="15" fill="#5fc0dc"/>
<rect x="977" y="318" width="29" height="15" fill="#5369a7"/>
<rect x="1039" y="318" width="5" height="15" fill="#5fc0dc"/>
<rect x="1044" y="318" width="4" height="15" fill="#0fa41a"/>
<rect x="1048" y="318" width="4" height="15" fill="#4c7cb6"/>
<rect x="1053" y="318" width="2" height="15" fill="#a6a80e"/>
<rect x="1055" y="318" width="1" height="15" fill="#15c81e"/>
<rect x="811" y="333" width="8" height="16" fill="#5b9ac6"/>
<rect x="819" y="333" width="3" height="16" fill="#5dd3c2"/>
<rect x="822" y="333" width="2" height="16" fill="#3fd26e"/>
<rect x="824" y="333" width="18" height="16" fill="#5fc0dc"/>
<rect x="842" y="333" width="2" height="16" fill="#5b9ac6"/>
<rect x="844" y="333" width="8" height="16" fill="#5fc0dc"/>
<rect x="852" y="333" width="29" height="16" fill="#4c7cb6"/>
<rect x="881" y="333" width="7" height="16" fill="#5b9ac6"/>
<rect x="888" y="333" width="4" height="16" fill="#4c7cb6"/>
<rect x="892" y="333" width="7" height="16" fill="#5b9ac6"/>
<rect x="899" y="333" width="21" height="16" fill="#5fc0dc"/>
<rect x="920" y="333" width="10" height="16" fill="#5dd3c2"/>
<rect x="930" y="333" width="11" height="16" fill="#5fc0dc"/>
<rect x="941" y="333" width="2" height="16" fill="#5b9ac6"/>
<rect x="943" y="333" width="9" height="16" fill="#5fc0dc"/>
<rect x="952" y="333" width="16" height="16" fill="#5b9ac6"/>
<rect x="968" y="333" width="9" height="16" fill="#5fc0dc"/>
<rect x="977" y="333" width="5" height="16" fill="#4560a8"/>
<rect x="1039" y="333" width="5" height="16" fill="#5fc0dc"/>
<rect x="1044" y="333" width="4" height="16" fill="#0fa41a"/>
<rect x="1048" y="333" width="4" height="16" fill="#4c7cb6"/>
<rect x="1053" y="333" width="2" height="16" fill="#a6a80e"/>
<rect x="1055" y="333" width="1" height="16" fill="#15c81e"/>
<rect x="811" y="349" width="8" height="15" fill="#5b9ac6"/>
<rect x="819" y="349" width="23" height="15" fill="#5fc0dc"/>
<rect x="842" y="349" width="2" height="15" fill="#5b9ac6"/>
<rect x="844" y="349" width="8" height="15" fill="#5fc0dc"/>
<rect x="852" y="349" width="29" height="15" fill="#4c7cb6"/>
<rect x="881" y="349" width="7" height="15" fill="#5b9ac6"/>
<rect x="888" y="349" width="4" height="15" fill="#4c7cb6"/>
<rect x="892" y="349" width="7" height="15" fill="#5b9ac6"/>
<rect x="899" y="349" width="23" height="15" fill="#5fc0dc"/>
<rect x="922" y="349" width="9" height="15" fill="#5b9ac6"/>
<rect x="931" y="349" width="6" height="15" fill="#4560a8"/>
<rect x="951" y="349" width="5" height="15" fill="#5369a7"/>
<rect x="956" y="349" width="3" height="15" fill="#5dd3c2"/>
<rect x="959" y="349" width="3" height="15" fill="#5369a7"/>
<rect x="970" y="349" width="11" height="15" fill="#4560a8"/>
<rect x="1016" y="349" width="7" height="15" fill="#4560a8"/>
<rect x="1025" y="349" width="3" height="15" fill="#4c7cb6"/>
<rect x="1028" y="349" width="6" height="15" fill="#5fc0dc"/>
<rect x="1034" y="349" width="3" height="15" fill="#5b9ac6"/>
<rect x="1050" y="349" width="3" height="15" fill="#4c7cb6"/>
<rect x="1053" y="349" width="1" height="15" fill="#5fc0dc"/>
<rect x="1054" y="349" width="4" height="15" fill="#15c81e"/>
<rect x="818" y="364" width="1" height="15" fill="#4560a8"/>
<rect x="821" y="364" width="3" height="15" fill="#4560a8"/>
<rect x="824" y="364" width="4" height="15" fill="#5fc0dc"/>
<rect x="828" y="364" width="5" height="15" fill="#13b61d"/>
<rect x="843" y="364" width="1" height="15" fill="#4560a8"/>
<rect x="849" y="364" width="1" height="15" fill="#4560a8"/>
<rect x="856" y="364" width="1" height="15" fill="#4560a8"/>
<rect x="866" y="364" width="5" height="15" fill="#13b61d"/>
<rect x="872" y="364" width="1" height="15" fill="#5fc0dc"/>
<rect x="874" y="364" width="3" height="15" fill="#4c7cb6"/>
<rect x="877" y="364" width="6" height="15" fill="#13b61d"/>
<rect x="883" y="364" width="2" height="15" fill="#0a7a13"/>
<rect x="885" y="364" width="4" height="15" fill="#5fc0dc"/>
<rect x="897" y="364" width="3" height="15" fill="#5369a7"/>
<rect x="906" y="364" width="8" height="15" fill="#5369a7"/>
<rect x="914" y="364" width="7" height="15" fill="#5dd3c2"/>
<rect x="921" y="364" width="4" height="15" fill="#3fd26e"/>
<rect x="928" y="364" width="3" height="15" fill="#4560a8"/>
<rect x="934" y="364" width="3" height="15" fill="#5369a7"/>
<rect x="946" y="364" width="2" height="15" fill="#4560a8"/>
<rect x="949" y="364" width="5" height="15" fill="#5369a7"/>
<rect x="954" y="364" width="6" height="15" fill="#15c81e"/>
<rect x="960" y="364" width="3" height="15" fill="#a6a80e"/>
<rect x="963" y="364" width="6" height="15" fill="#13b61d"/>
<rect x="969" y="364" width="4" height="15" fill="#4c7cb6"/>
<rect x="973" y="364" width="3" height="15" fill="#5fc0dc"/>
<rect x="976" y="364" width="2" height="15" fill="#0a7a13"/>
<rect x="978" y="364" width="3" height="15" fill="#a6a80e"/>
<rect x="981" y="364" width="4" height="15" fill="#15c81e"/>
<rect x="985" y="364" width="3" height="15" fill="#4c7cb6"/>
<rect x="988" y="364" width="3" height="15" fill="#3fd26e"/>
<rect x="991" y="364" width="7" height="15" fill="#0a7a13"/>
<rect x="998" y="364" width="2" height="15" fill="#0b8e15"/>
<rect x="1006" y="364" width="3" height="15" fill="#5369a7"/>
<rect x="1010" y="364" width="4" height="15" fill="#5369a7"/>
<rect x="1016" y="364" width="7" height="15" fill="#4560a8"/>
<rect x="1024" y="364" width="4" height="15" fill="#4c7cb6"/>
<rect x="1028" y="364" width="6" height="15" fill="#5fc0dc"/>
<rect x="1034" y="364" width="3" height="15" fill="#5b9ac6"/>
<rect x="1050" y="364" width="3" height="15" fill="#4c7cb6"/>
<rect x="1053" y="364" width="1" height="15" fill="#5fc0dc"/>
<rect x="1054" y="364" width="4" height="15" fill="#15c81e"/>
<rect x="811" y="379" width="3" height="16" fill="#3fd26e"/>
<rect x="814" y="379" width="1" height="16" fill="#0fa41a"/>
<rect x="815" y="379" width="4" height="16" fill="#ffb400"/>
<rect x="819" y="379" width="4" height="16" fill="#0a7a13"/>
<rect x="823" y="379" width="8" height="16" fill="#ff9900"/>
<rect x="831" y="379" width="3" height="16" fill="#a6a80e"/>
<rect x="834" y="379" width="4" height="16" fill="#5b9ac6"/>
<rect x="838" y="379" width="2" height="16" fill="#a6a80e"/>
<rect x="840" y="379" width="3" height="16" fill="#0a7a13"/>
<rect x="843" y="379" width="3" height="16" fill="#ffd700"/>
<rect x="846" y="379" width="3" height="16" fill="#13b61d"/>
<rect x="849" y="379" width="1" height="16" fill="#a6a80e"/>
<rect x="850" y="379" width="4" height="16" fill="#0fa41a"/>
<rect x="854" y="379" width="5" height="16" fill="#ffb400"/>
<rect x="859" y="379" width="5" height="16" fill="#0fa41a"/>
<rect x="864" y="379" width="3" height="16" fill="#ffd700"/>
<rect x="867" y="379" width="7" height="16" fill="#13b61d"/>
<rect x="874" y="379" width="4" height="16" fill="#ffd700"/>
<rect x="878" y="379" width="5" height="16" fill="#0fa41a"/>
<rect x="883" y="379" width="3" height="16" fill="#0a7a13"/>
<rect x="886" y="379" width="2" height="16" fill="#5fc0dc"/>
<rect x="888" y="379" width="3" height="16" fill="#0fa41a"/>
<rect x="891" y="379" width="3" height="16" fill="#a6a80e"/>
<rect x="894" y="379" width="6" height="16" fill="#5369a7"/>
<rect x="905" y="379" width="3" height="16" fill="#ffb400"/>
<rect x="908" y="379" width="5" height="16" fill="#0b8e15"/>
<rect x="913" y="379" width="3" height="16" fill="#0fa41a"/>
<rect x="916" y="379" width="3" height="16" fill="#ffd700"/>
<rect x="919" y="379" width="5" height="16" fill="#13b61d"/>
<rect x="924" y="379" width="4" height="16" fill="#0fa41a"/>
<rect x="928" y="379" width="3" height="16" fill="#ffd700"/>
<rect x="931" y="379" width="3" height="16" fill="#0a7a13"/>
<rect x="934" y="379" width="8" height="16" fill="#0b8e15"/>
<rect x="942" y="379" width="2" height="16" fill="#4c7cb6"/>
<rect x="946" y="379" width="2" height="16" fill="#4560a8"/>
<rect x="950" y="379" width="1" height="16" fill="#4560a8"/>
<rect x="959" y="379" width="1" height="16" fill="#13b61d"/>
<rect x="960" y="379" width="3" height="16" fill="#a6a80e"/>
<rect x="963" y="379" width="2" height="16" fill="#13b61d"/>
<rect x="967" y="379" width="2" height="16" fill="#4560a8"/>
<rect x="1076" y="42" width="8" height="14" fill="#5b9ac6"/>
<rect x="1084" y="42" width="8" height="14" fill="#4c7cb6"/>
<rect x="1062" y="71" width="8" height="77" fill="#5369a7"/>
<rect x="1070" y="71" width="8" height="77" fill="#5dd3c2"/>
<rect x="1118" y="42" width="2" height="45" fill="#0b8e15"/>
<rect x="1119" y="87" width="2" height="31" fill="#0b8e15"/>
<rect x="1242" y="42" width="3" height="45" fill="#4c7cb6"/>
<rect x="1245" y="42" width="5" height="45" fill="#5fc0dc"/>
<rect x="1259" y="42" width="4" height="29" fill="#3fd26e"/>
<rect x="1260" y="71" width="3" height="16" fill="#5b9ac6"/>
<rect x="1266" y="71" width="6" height="77" fill="#15c81e"/>
<rect x="1287" y="56" width="5" height="77" fill="#0b8e15"/>
<rect x="1297" y="42" width="6" height="60" fill="#0fa41a"/>
<rect x="1303" y="56" width="2" height="46" fill="#13b61d"/>
<rect x="1302" y="102" width="3" height="31" fill="#13b61d"/>
<rect x="1074" y="148" width="4" height="47" fill="#5dd3c2"/>
<rect x="1077" y="148" width="2" height="47" fill="#4c7cb6"/>
<rect x="1078" y="179" width="2" height="16" fill="#4c7cb6"/>
<rect x="1129" y="118" width="2" height="46" fill="#0fa41a"/>
<rect x="1130" y="164" width="3" height="15" fill="#0fa41a"/>
<rect x="1113" y="241" width="6" height="46" fill="#5369a7"/>
<rect x="1160" y="225" width="11" height="47" fill="#5369a7"/>
<rect x="1179" y="210" width="6" height="15" fill="#5369a7"/>
<rect x="1189" y="210" width="31" height="15" fill="#5369a7"/>
<rect x="1220" y="210" width="6" height="15" fill="#6373a9"/>
<rect x="1228" y="210" width="7" height="15" fill="#5369a7"/>
<rect x="1175" y="225" width="45" height="16" fill="#5369a7"/>
<rect x="1220" y="225" width="6" height="16" fill="#6373a9"/>
<rect x="1228" y="225" width="7" height="16" fill="#5369a7"/>
<rect x="1175" y="241" width="49" height="15" fill="#5369a7"/>
<rect x="1224" y="241" width="11" height="15" fill="#6373a9"/>
<rect x="1175" y="256" width="21" height="16" fill="#5369a7"/>
<rect x="1196" y="256" width="5" height="16" fill="#6373a9"/>
<rect x="1201" y="256" width="19" height="16" fill="#5369a7"/>
<rect x="1222" y="256" width="6" height="16" fill="#5369a7"/>
<rect x="1228" y="256" width="7" height="16" fill="#4c7cb6"/>
<rect x="1188" y="272" width="17" height="15" fill="#5369a7"/>
<rect x="1205" y="272" width="4" height="15" fill="#4c7cb6"/>
<rect x="1209" y="272" width="16" height="15" fill="#4560a8"/>
<rect x="1225" y="272" width="10" height="15" fill="#4c7cb6"/>
<rect x="1070" y="287" width="2" height="15" fill="#0a7a13"/>
<rect x="1072" y="287" width="1" height="15" fill="#3fd26e"/>
<rect x="1076" y="287" width="5" height="15" fill="#5369a7"/>
<rect x="1081" y="287" width="6" height="15" fill="#4560a8"/>
<rect x="1181" y="287" width="24" height="15" fill="#5369a7"/>
<rect x="1205" y="287" width="4" height="15" fill="#4c7cb6"/>
<rect x="1209" y="287" width="16" height="15" fill="#4560a8"/>
<rect x="1225" y="287" width="10" height="15" fill="#4c7cb6"/>
<rect x="1070" y="302" width="2" height="16" fill="#0a7a13"/>
<rect x="1072" y="302" width="1" height="16" fill="#3fd26e"/>
<rect x="1076" y="302" width="5" height="16" fill="#5369a7"/>
<rect x="1081" y="302" width="6" height="16" fill="#4560a8"/>
<rect x="1117" y="302" width="2" height="16" fill="#5369a7"/>
<rect x="1181" y="302" width="24" height="16" fill="#5369a7"/>
<rect x="1205" y="302" width="4" height="16" fill="#4c7cb6"/>
<rect x="1209" y="302" width="16" height="16" fill="#4560a8"/>
<rect x="1225" y="302" width="10" height="16" fill="#4c7cb6"/>
<rect x="1068" y="318" width="8" height="15" fill="#5dd3c2"/>
<rect x="1076" y="318" width="5" height="15" fill="#5369a7"/>
<rect x="1081" y="318" width="6" height="15" fill="#4560a8"/>
<rect x="1117" y="318" width="2" height="15" fill="#5369a7"/>
<rect x="1127" y="318" width="10" height="15" fill="#5369a7"/>
<rect x="1137" y="318" width="6" height="15" fill="#4560a8"/>
<rect x="1143" y="318" width="8" height="15" fill="#4c7cb6"/>
<rect x="1151" y="318" width="6" height="15" fill="#5dd3c2"/>
<rect x="1157" y="318" width="33" height="15" fill="#5369a7"/>
<rect x="1190" y="318" width="11" height="15" fill="#4c7cb6"/>
<rect x="1201" y="318" width="17" height="15" fill="#5369a7"/>
<rect x="1218" y="318" width="15" height="15" fill="#4560a8"/>
<rect x="1233" y="318" width="2" height="15" fill="#4c7cb6"/>
<rect x="1068" y="333" width="8" height="16" fill="#5dd3c2"/>
<rect x="1078" y="333" width="28" height="16" fill="#5369a7"/>
<rect x="1108" y="333" width="29" height="16" fill="#5369a7"/>
<rect x="1137" y="333" width="6" height="16" fill="#4560a8"/>
<rect x="1143" y="333" width="8" height="16" fill="#4c7cb6"/>
<rect x="1151" y="333" width="6" height="16" fill="#5dd3c2"/>
<rect x="1157" y="333" width="33" height="16" fill="#5369a7"/>
<rect x="1190" y="333" width="11" height="16" fill="#4c7cb6"/>
<rect x="1201" y="333" width="17" height="16" fill="#5369a7"/>
<rect x="1218" y="333" width="15" height="16" fill="#4560a8"/>
<rect x="1233" y="333" width="2" height="16" fill="#4c7cb6"/>
<rect x="1058" y="349" width="3" height="15" fill="#5dd3c2"/>
<rect x="1061" y="349" width="3" height="15" fill="#3fd26e"/>
<rect x="1064" y="349" width="2" height="15" fill="#5369a7"/>
<rect x="1077" y="349" width="3" height="15" fill="#5b9ac6"/>
<rect x="1080" y="349" width="26" height="15" fill="#5369a7"/>
<rect x="1107" y="349" width="8" height="15" fill="#5369a7"/>
<rect x="1115" y="349" width="1" height="15" fill="#5fc0dc"/>
<rect x="1116" y="349" width="3" height="15" fill="#4c7cb6"/>
<rect x="1119" y="349" width="11" height="15" fill="#5369a7"/>
<rect x="1130" y="349" width="8" height="15" fill="#4560a8"/>
<rect x="1138" y="349" width="18" height="15" fill="#5369a7"/>
<rect x="1158" y="349" width="1" height="15" fill="#5369a7"/>
<rect x="1160" y="349" width="1" height="15" fill="#5369a7"/>
<rect x="1194" y="349" width="7" height="15" fill="#4c7cb6"/>
<rect x="1206" y="349" width="21" height="15" fill="#4560a8"/>
<rect x="1058" y="364" width="3" height="15" fill="#5dd3c2"/>
<rect x="1061" y="364" width="3" height="15" fill="#3fd26e"/>
<rect x="1078" y="364" width="2" height="15" fill="#5b9ac6"/>
<rect x="1116" y="364" width="4" height="15" fill="#4c7cb6"/>
<rect x="1319" y="56" width="4" height="62" fill="#5b9ac6"/>
<rect x="1317" y="118" width="3" height="61" fill="#5fc0dc"/>
<rect x="1333" y="118" width="3" height="61" fill="#0fa41a"/>
<rect x="1336" y="118" width="4" height="61" fill="#5b9ac6"/>
<rect x="1313" y="195" width="3" height="15" fill="#0fa41a"/>
<rect x="1314" y="210" width="3" height="31" fill="#0fa41a"/>
<rect x="1235" y="210" width="2" height="15" fill="#5369a7"/>
<rect x="1241" y="210" width="7" height="15" fill="#5369a7"/>
<rect x="1250" y="210" width="3" height="15" fill="#5369a7"/>
<rect x="1260" y="210" width="4" height="15" fill="#5369a7"/>
<rect x="1272" y="210" width="7" height="15" fill="#5369a7"/>
<rect x="1235" y="225" width="2" height="16" fill="#5369a7"/>
<rect x="1240" y="225" width="8" height="16" fill="#5369a7"/>
<rect x="1248" y="225" width="7" height="16" fill="#4c7cb6"/>
<rect x="1255" y="225" width="5" height="16" fill="#15c81e"/>
<rect x="1260" y="225" width="7" height="16" fill="#0b8e15"/>
<rect x="1267" y="225" width="5" height="16" fill="#5b9ac6"/>
<rect x="1272" y="225" width="24" height="16" fill="#4560a8"/>
<rect x="1301" y="225" width="5" height="16" fill="#5369a7"/>
<rect x="1317" y="225" width="6" height="16" fill="#4560a8"/>
<rect x="1325" y="225" width="5" height="16" fill="#5369a7"/>
<rect x="1339" y="225" width="37" height="16" fill="#4560a8"/>
<rect x="1235" y="241" width="2" height="15" fill="#5369a7"/>
<rect x="1240" y="241" width="8" height="15" fill="#5369a7"/>
<rect x="1248" y="241" width="7" height="15" fill="#4c7cb6"/>
<rect x="1255" y="241" width="5" height="15" fill="#15c81e"/>
<rect x="1260" y="241" width="7" height="15" fill="#0b8e15"/>
<rect x="1267" y="241" width="5" height="15" fill="#5b9ac6"/>
<rect x="1272" y="241" width="27" height="15" fill="#4560a8"/>
<rect x="1299" y="241" width="6" height="15" fill="#4c7cb6"/>
<rect x="1305" y="241" width="3" height="15" fill="#5b9ac6"/>
<rect x="1308" y="241" width="7" height="15" fill="#4c7cb6"/>
<rect x="1315" y="241" width="3" height="15" fill="#5b9ac6"/>
<rect x="1318" y="241" width="10" height="15" fill="#4c7cb6"/>
<rect x="1328" y="241" width="11" height="15" fill="#4560a8"/>
<rect x="1339" y="241" width="4" height="15" fill="#4c7cb6"/>
<rect x="1343" y="241" width="33" height="15" fill="#4560a8"/>
<rect x="1235" y="256" width="2" height="16" fill="#4c7cb6"/>
<rect x="1237" y="256" width="18" height="16" fill="#4560a8"/>
<rect x="1255" y="256" width="5" height="16" fill="#15c81e"/>
<rect x="1260" y="256" width="7" height="16" fill="#0b8e15"/>
<rect x="1267" y="256" width="5" height="16" fill="#5b9ac6"/>
<rect x="1272" y="256" width="10" height="16" fill="#4560a8"/>
<rect x="1282" y="256" width="1" height="16" fill="#4c7cb6"/>
<rect x="1283" y="256" width="17" height="16" fill="#4560a8"/>
<rect x="1300" y="256" width="15" height="16" fill="#4c7cb6"/>
<rect x="1315" y="256" width="7" height="16" fill="#5b9ac6"/>
<rect x="1322" y="256" width="6" height="16" fill="#4c7cb6"/>
<rect x="1328" y="256" width="48" height="16" fill="#4560a8"/>
<rect x="1235" y="272" width="20" height="15" fill="#4560a8"/>
<rect x="1255" y="272" width="5" height="15" fill="#15c81e"/>
<rect x="1260" y="272" width="7" height="15" fill="#0b8e15"/>
<rect x="1267" y="272" width="5" height="15" fill="#5b9ac6"/>
<rect x="1272" y="272" width="13" height="15" fill="#4560a8"/>
<rect x="1285" y="272" width="2" height="15" fill="#4c7cb6"/>
<rect x="1287" y="272" width="11" height="15" fill="#4560a8"/>
<rect x="1298" y="272" width="9" height="15" fill="#4c7cb6"/>
<rect x="1307" y="272" width="2" height="15" fill="#4560a8"/>
<rect x="1309" y="272" width="8" height="15" fill="#4c7cb6"/>
<rect x="1317" y="272" width="2" height="15" fill="#4560a8"/>
<rect x="1319" y="272" width="10" height="15" fill="#4c7cb6"/>
<rect x="1329" y="272" width="8" height="15" fill="#4560a8"/>
<rect x="1337" y="272" width="6" height="15" fill="#4c7cb6"/>
<rect x="1343" y="272" width="33" height="15" fill="#4560a8"/>
<rect x="1235" y="287" width="14" height="15" fill="#4560a8"/>
<rect x="1249" y="287" width="20" height="15" fill="#4c7cb6"/>
<rect x="1269" y="287" width="13" height="15" fill="#13b61d"/>
<rect x="1282" y="287" width="5" height="15" fill="#4c7cb6"/>
<rect x="1287" y="287" width="8" height="15" fill="#5b9ac6"/>
<rect x="1295" y="287" width="8" height="15" fill="#5fc0dc"/>
<rect x="1303" y="287" width="2" height="15" fill="#5b9ac6"/>
<rect x="1305" y="287" width="3" height="15" fill="#5fc0dc"/>
<rect x="1308" y="287" width="14" height="15" fill="#5b9ac6"/>
<rect x="1322" y="287" width="4" height="15" fill="#5dd3c2"/>
<rect x="1326" y="287" width="1" height="15" fill="#5b9ac6"/>
<rect x="1327" y="287" width="6" height="15" fill="#5dd3c2"/>
<rect x="1333" y="287" width="5" height="15" fill="#15c81e"/>
<rect x="1338" y="287" width="1" height="15" fill="#3fd26e"/>
<rect x="1339" y="287" width="4" height="15" fill="#15c81e"/>
<rect x="1343" y="287" width="4" height="15" fill="#3fd26e"/>
<rect x="1347" y="287" width="3" height="15" fill="#15c81e"/>
<rect x="1350" y="287" width="2" height="15" fill="#5dd3c2"/>
<rect x="1352" y="287" width="2" height="15" fill="#3fd26e"/>
<rect x="1354" y="287" width="2" height="15" fill="#5dd3c2"/>
<rect x="1356" y="287" width="1" height="15" fill="#3fd26e"/>
<rect x="1357" y="287" width="2" height="15" fill="#15c81e"/>
<rect x="1359" y="287" width="9" height="15" fill="#5dd3c2"/>
<rect x="1368" y="287" width="3" height="15" fill="#3fd26e"/>
<rect x="1371" y="287" width="5" height="15" fill="#5dd3c2"/>
<rect x="1235" y="302" width="14" height="16" fill="#4560a8"/>
<rect x="1249" y="302" width="3" height="16" fill="#4c7cb6"/>
<rect x="1252" y="302" width="2" height="16" fill="#5fc0dc"/>
<rect x="1254" y="302" width="7" height="16" fill="#4c7cb6"/>
<rect x="1261" y="302" width="5" height="16" fill="#5b9ac6"/>
<rect x="1266" y="302" width="3" height="16" fill="#4c7cb6"/>
<rect x="1269" y="302" width="13" height="16" fill="#13b61d"/>
<rect x="1282" y="302" width="7" height="16" fill="#5fc0dc"/>
<rect x="1289" y="302" width="5" height="16" fill="#5b9ac6"/>
<rect x="1294" y="302" width="9" height="16" fill="#5fc0dc"/>
<rect x="1303" y="302" width="19" height="16" fill="#5dd3c2"/>
<rect x="1322" y="302" width="2" height="16" fill="#3fd26e"/>
<rect x="1324" y="302" width="9" height="16" fill="#5dd3c2"/>
<rect x="1333" y="302" width="5" height="16" fill="#15c81e"/>
<rect x="1338" y="302" width="1" height="16" fill="#3fd26e"/>
<rect x="1339" y="302" width="4" height="16" fill="#15c81e"/>
<rect x="1343" y="302" width="4" height="16" fill="#3fd26e"/>
<rect x="1347" y="302" width="3" height="16" fill="#15c81e"/>
<rect x="1350" y="302" width="2" height="16" fill="#5dd3c2"/>
<rect x="1352" y="302" width="2" height="16" fill="#3fd26e"/>
<rect x="1354" y="302" width="2" height="16" fill="#5dd3c2"/>
<rect x="1356" y="302" width="1" height="16" fill="#3fd26e"/>
<rect x="1357" y="302" width="2" height="16" fill="#15c81e"/>
<rect x="1359" y="302" width="9" height="16" fill="#5dd3c2"/>
<rect x="1368" y="302" width="3" height="16" fill="#3fd26e"/>
<rect x="1371" y="302" width="5" height="16" fill="#5dd3c2"/>
<rect x="1235" y="318" width="3" height="15" fill="#4c7cb6"/>
<rect x="1238" y="318" width="3" height="15" fill="#5fc0dc"/>
<rect x="1241" y="318" width="7" height="15" fill="#4c7cb6"/>
<rect x="1248" y="318" width="8" height="15" fill="#5b9ac6"/>
<rect x="1256" y="318" width="4" height="15" fill="#4c7cb6"/>
<rect x="1260" y="318" width="6" height="15" fill="#5b9ac6"/>
<rect x="1266" y="318" width="3" height="15" fill="#4c7cb6"/>
<rect x="1269" y="318" width="13" height="15" fill="#13b61d"/>
<rect x="1282" y="318" width="7" height="15" fill="#5fc0dc"/>
<rect x="1289" y="318" width="5" height="15" fill="#5b9ac6"/>
<rect x="1294" y="318" width="9" height="15" fill="#5fc0dc"/>
<rect x="1303" y="318" width="19" height="15" fill="#5dd3c2"/>
<rect x="1322" y="318" width="2" height="15" fill="#3fd26e"/>
<rect x="1324" y="318" width="9" height="15" fill="#5dd3c2"/>
<rect x="1333" y="318" width="5" height="15" fill="#15c81e"/>
<rect x="1338" y="318" width="1" height="15" fill="#3fd26e"/>
<rect x="1339" y="318" width="4" height="15" fill="#15c81e"/>
<rect x="1343" y="318" width="4" height="15" fill="#3fd26e"/>
<rect x="1347" y="318" width="3" height="15" fill="#15c81e"/>
<rect x="1350" y="318" width="2" height="15" fill="#5dd3c2"/>
<rect x="1352" y="318" width="2" height="15" fill="#3fd26e"/>
<rect x="1354" y="318" width="2" height="15" fill="#5dd3c2"/>
<rect x="1356" y="318" width="1" height="15" fill="#3fd26e"/>
<rect x="1357" y="318" width="2" height="15" fill="#15c81e"/>
<rect x="1359" y="318" width="9" height="15" fill="#5dd3c2"/>
<rect x="1368" y="318" width="3" height="15" fill="#3fd26e"/>
<rect x="1371" y="318" width="5" height="15" fill="#5dd3c2"/>
<rect x="1235" y="333" width="3" height="16" fill="#4c7cb6"/>
<rect x="1238" y="333" width="3" height="16" fill="#5fc0dc"/>
<rect x="1241" y="333" width="7" height="16" fill="#4c7cb6"/>
<rect x="1248" y="333" width="8" height="16" fill="#5b9ac6"/>
<rect x="1256" y="333" width="4" height="16" fill="#4c7cb6"/>
<rect x="1260" y="333" width="6" height="16" fill="#5b9ac6"/>
<rect x="1266" y="333" width="3" height="16" fill="#4c7cb6"/>
<rect x="1269" y="333" width="6" height="16" fill="#5b9ac6"/>
<rect x="1275" y="333" width="3" height="16" fill="#4c7cb6"/>
<rect x="1278" y="333" width="5" height="16" fill="#5b9ac6"/>
<rect x="1283" y="333" width="7" height="16" fill="#5fc0dc"/>
<rect x="1290" y="333" width="3" height="16" fill="#5b9ac6"/>
<rect x="1293" y="333" width="10" height="16" fill="#5fc0dc"/>
<rect x="1303" y="333" width="19" height="16" fill="#5dd3c2"/>
<rect x="1322" y="333" width="3" height="16" fill="#3fd26e"/>
<rect x="815" y="118" width="3" height="30" fill="#4560a8"/>
<rect x="819" y="118" width="2" height="30" fill="#4560a8"/>
<rect x="830" y="118" width="2" height="30" fill="#4560a8"/>
<rect x="787" y="133" width="2" height="15" fill="#4560a8"/>
<rect x="806" y="133" width="2" height="15" fill="#4560a8"/>
<rect x="845" y="133" width="2" height="15" fill="#4560a8"/>
<rect x="787" y="148" width="2" height="16" fill="#4560a8"/>
<rect x="806" y="148" width="6" height="16" fill="#4560a8"/>
<rect x="815" y="148" width="3" height="16" fill="#5369a7"/>
<rect x="820" y="148" width="1" height="16" fill="#4560a8"/>
<rect x="830" y="148" width="1" height="16" fill="#4560a8"/>
<rect x="832" y="148" width="1" height="16" fill="#4560a8"/>
<rect x="846" y="148" width="1" height="16" fill="#4560a8"/>
<rect x="774" y="164" width="3" height="15" fill="#5369a7"/>
<rect x="791" y="164" width="5" height="15" fill="#5369a7"/>
<rect x="806" y="164" width="6" height="15" fill="#4560a8"/>
<rect x="815" y="164" width="3" height="15" fill="#5369a7"/>
<rect x="820" y="164" width="1" height="15" fill="#4560a8"/>
<rect x="830" y="164" width="1" height="15" fill="#4560a8"/>
<rect x="833" y="164" width="1" height="15" fill="#4560a8"/>
<rect x="846" y="164" width="1" height="15" fill="#4560a8"/>
<rect x="761" y="179" width="4" height="16" fill="#4560a8"/>
<rect x="773" y="179" width="6" height="16" fill="#5369a7"/>
<rect x="785" y="179" width="5" height="16" fill="#4560a8"/>
<rect x="791" y="179" width="5" height="16" fill="#5369a7"/>
<rect x="800" y="179" width="3" height="16" fill="#4560a8"/>
<rect x="806" y="179" width="6" height="16" fill="#4560a8"/>
<rect x="815" y="179" width="4" height="16" fill="#5369a7"/>
<rect x="820" y="179" width="1" height="16" fill="#4560a8"/>
<rect x="831" y="179" width="1" height="16" fill="#4560a8"/>
<rect x="833" y="179" width="1" height="16" fill="#4560a8"/>
<rect x="846" y="179" width="2" height="16" fill="#4560a8"/>
<rect x="850" y="179" width="2" height="16" fill="#4560a8"/>
<rect x="746" y="195" width="2" height="15" fill="#4560a8"/>
<rect x="756" y="195" width="9" height="15" fill="#4560a8"/>
<rect x="769" y="195" width="10" height="15" fill="#5369a7"/>
<rect x="780" y="195" width="3" height="15" fill="#4560a8"/>
<rect x="785" y="195" width="5" height="15" fill="#4560a8"/>
<rect x="790" y="195" width="6" height="15" fill="#5369a7"/>
<rect x="797" y="195" width="2" height="15" fill="#4560a8"/>
<rect x="800" y="195" width="3" height="15" fill="#4560a8"/>
<rect x="806" y="195" width="6" height="15" fill="#4560a8"/>
<rect x="820" y="195" width="2" height="15" fill="#4560a8"/>
<rect x="831" y="195" width="1" height="15" fill="#4560a8"/>
<rect x="834" y="195" width="1" height="15" fill="#4560a8"/>
<rect x="846" y="195" width="2" height="15" fill="#4560a8"/>
<rect x="851" y="195" width="1" height="15" fill="#4560a8"/>
<rect x="851" y="210" width="1" height="15" fill="#4560a8"/>
<rect x="746" y="210" width="2" height="15" fill="#4560a8"/>
<rect x="756" y="210" width="5" height="15" fill="#4560a8"/>
<rect x="761" y="210" width="4" height="15" fill="#4c7cb6"/>
<rect x="769" y="210" width="10" height="15" fill="#5369a7"/>
<rect x="780" y="210" width="10" height="15" fill="#5369a7"/>
<rect x="791" y="210" width="5" height="15" fill="#5369a7"/>
<rect x="797" y="210" width="2" height="15" fill="#4560a8"/>
<rect x="800" y="210" width="4" height="15" fill="#4560a8"/>
<rect x="808" y="210" width="5" height="15" fill="#4560a8"/>
<rect x="818" y="210" width="4" height="15" fill="#4560a8"/>
<rect x="828" y="210" width="3" height="15" fill="#5b9ac6"/>
<rect x="833" y="210" width="1" height="15" fill="#4560a8"/>
<rect x="835" y="210" width="2" height="15" fill="#4560a8"/>
<rect x="746" y="225" width="3" height="16" fill="#4560a8"/>
<rect x="756" y="225" width="5" height="16" fill="#4560a8"/>
<rect x="761" y="225" width="4" height="16" fill="#4c7cb6"/>
<rect x="769" y="225" width="10" height="16" fill="#5369a7"/>
<rect x="779" y="225" width="12" height="16" fill="#4560a8"/>
<rect x="797" y="225" width="2" height="16" fill="#4560a8"/>
<rect x="800" y="225" width="4" height="16" fill="#4560a8"/>
<rect x="808" y="225" width="3" height="16" fill="#4560a8"/>
<rect x="818" y="225" width="4" height="16" fill="#4560a8"/>
<rect x="822" y="225" width="1" height="16" fill="#5fc0dc"/>
<rect x="823" y="225" width="1" height="16" fill="#4560a8"/>
<rect x="823" y="225" width="2" height="16" fill="#5fc0dc"/>
<rect x="828" y="225" width="4" height="16" fill="#5b9ac6"/>
<rect x="832" y="225" width="1" height="16" fill="#5fc0dc"/>
<rect x="833" y="225" width="1" height="16" fill="#5b9ac6"/>
<rect x="835" y="225" width="2" height="16" fill="#4560a8"/>
<rect x="746" y="241" width="3" height="15" fill="#4560a8"/>
<rect x="756" y="241" width="6" height="15" fill="#4560a8"/>
<rect x="769" y="241" width="8" height="15" fill="#5369a7"/>
<rect x="780" y="241" width="7" height="15" fill="#5369a7"/>
<rect x="788" y="241" width="2" height="15" fill="#5fc0dc"/>
<rect x="790" y="241" width="1" height="15" fill="#5b9ac6"/>
<rect x="791" y="241" width="4" height="15" fill="#4560a8"/>
<rect x="797" y="241" width="2" height="15" fill="#4560a8"/>
<rect x="804" y="241" width="5" height="15" fill="#5369a7"/>
<rect x="809" y="241" width="6" height="15" fill="#4560a8"/>
<rect x="818" y="241" width="5" height="15" fill="#5369a7"/>
<rect x="823" y="241" width="1" height="15" fill="#5fc0dc"/>
<rect x="828" y="241" width="5" height="15" fill="#5b9ac6"/>
<rect x="833" y="241" width="1" height="15" fill="#5fc0dc"/>
<rect x="835" y="241" width="2" height="15" fill="#4560a8"/>
<rect x="745" y="256" width="2" height="16" fill="#4560a8"/>
<rect x="755" y="256" width="6" height="16" fill="#4c7cb6"/>
<rect x="763" y="256" width="1" height="16" fill="#5369a7"/>
<rect x="767" y="256" width="8" height="16" fill="#4c7cb6"/>
<rect x="787" y="256" width="2" height="16" fill="#5369a7"/>
<rect x="789" y="256" width="2" height="16" fill="#5b9ac6"/>
<rect x="791" y="256" width="4" height="16" fill="#4560a8"/>
<rect x="797" y="256" width="3" height="16" fill="#4c7cb6"/>
<rect x="803" y="256" width="4" height="16" fill="#5369a7"/>
<rect x="808" y="256" width="8" height="16" fill="#4560a8"/>
<rect x="818" y="256" width="6" height="16" fill="#5369a7"/>
<rect x="824" y="256" width="2" height="16" fill="#5fc0dc"/>
<rect x="829" y="256" width="3" height="16" fill="#4c7cb6"/>
<rect x="832" y="256" width="3" height="16" fill="#5b9ac6"/>
<rect x="836" y="256" width="2" height="16" fill="#4560a8"/>
</g>
<g stroke="#808080" stroke-width="0.7" stroke-dasharray="2.6,1.1" fill="none" opacity="0.5">
<line x1="186.5" y1="41.5" x2="186.5" y2="426.5"/>
<line x1="367.3" y1="41.5" x2="367.3" y2="426.5"/>
<line x1="548.0" y1="41.5" x2="548.0" y2="426.5"/>
<line x1="728.8" y1="41.5" x2="728.8" y2="426.5"/>
<line x1="909.6" y1="41.5" x2="909.6" y2="426.5"/>
<line x1="1090.4" y1="41.5" x2="1090.4" y2="426.5"/>
<line x1="1271.2" y1="41.5" x2="1271.2" y2="426.5"/>
<line x1="74.5" y1="418.4" x2="1376.5" y2="418.4"/>
<line x1="74.5" y1="356.8" x2="1376.5" y2="356.8"/>
<line x1="74.5" y1="295.2" x2="1376.5" y2="295.2"/>
<line x1="74.5" y1="233.6" x2="1376.5" y2="233.6"/>
<line x1="74.5" y1="172.0" x2="1376.5" y2="172.0"/>
<line x1="74.5" y1="110.4" x2="1376.5" y2="110.4"/>
<line x1="74.5" y1="48.8" x2="1376.5" y2="48.8"/>
</g>
<rect x="74.5" y="41.5" width="1302.0" height="385.0" fill="none" stroke="#000" stroke-width="1.1"/>
<g stroke="#000" stroke-width="1.1">
<line x1="186.5" y1="426.5" x2="186.5" y2="431.5"/>
<line x1="367.5" y1="426.5" x2="367.5" y2="431.5"/>
<line x1="548.5" y1="426.5" x2="548.5" y2="431.5"/>
<line x1="728.5" y1="426.5" x2="728.5" y2="431.5"/>
<line x1="909.5" y1="426.5" x2="909.5" y2="431.5"/>
<line x1="1090.5" y1="426.5" x2="1090.5" y2="431.5"/>
<line x1="1271.5" y1="426.5" x2="1271.5" y2="431.5"/>
<line x1="69.5" y1="418.5" x2="74.5" y2="418.5"/>
<line x1="69.5" y1="356.5" x2="74.5" y2="356.5"/>
<line x1="69.5" y1="295.5" x2="74.5" y2="295.5"/>
<line x1="69.5" y1="233.5" x2="74.5" y2="233.5"/>
<line x1="69.5" y1="171.5" x2="74.5" y2="171.5"/>
<line x1="69.5" y1="110.5" x2="74.5" y2="110.5"/>
<line x1="69.5" y1="48.5" x2="74.5" y2="48.5"/>
</g>
<g font-size="18.1" text-anchor="end">
<text transform="translate(63.0,425.9) scale(1,1.06)">0</text>
<text transform="translate(63.0,364.3) scale(1,1.06)">2</text>
<text transform="translate(63.0,302.7) scale(1,1.06)">4</text>
<text transform="translate(63.0,241.1) scale(1,1.06)">6</text>
<text transform="translate(63.0,179.5) scale(1,1.06)">8</text>
<text transform="translate(63.0,117.9) scale(1,1.06)">10</text>
<text transform="translate(63.0,56.3) scale(1,1.06)">12</text>
</g>
<text x="725.5" y="33" font-size="30.6" text-anchor="middle">26.01.2026 07:20 - 07:24 UTC</text>
<text x="74.5" y="30.6" font-size="13.9">Product: Maximum Reflectivity</text>
<text x="725.5" y="456" font-size="25" text-anchor="middle">West to East</text>
<text transform="translate(29,235.3) rotate(-90)" font-size="25" text-anchor="middle">km AMSL</text>
<g shape-rendering="crispEdges">
<rect x="1392.5" y="393.24" width="17.0" height="12.66" fill="#6373a9"/>
<rect x="1392.5" y="380.89" width="17.0" height="13.26" fill="#5369a7"/>
<rect x="1392.5" y="368.53" width="17.0" height="13.26" fill="#4560a8"/>
<rect x="1392.5" y="356.17" width="17.0" height="13.26" fill="#4c7cb6"/>
<rect x="1392.5" y="343.81" width="17.0" height="13.26" fill="#5b9ac6"/>
<rect x="1392.5" y="331.46" width="17.0" height="13.26" fill="#5fc0dc"/>
<rect x="1392.5" y="319.10" width="17.0" height="13.26" fill="#5dd3c2"/>
<rect x="1392.5" y="306.74" width="17.0" height="13.26" fill="#3fd26e"/>
<rect x="1392.5" y="294.39" width="17.0" height="13.26" fill="#15c81e"/>
<rect x="1392.5" y="282.03" width="17.0" height="13.26" fill="#13b61d"/>
<rect x="1392.5" y="269.67" width="17.0" height="13.26" fill="#0fa41a"/>
<rect x="1392.5" y="257.31" width="17.0" height="13.26" fill="#0b8e15"/>
<rect x="1392.5" y="244.96" width="17.0" height="13.26" fill="#0a7a13"/>
<rect x="1392.5" y="232.60" width="17.0" height="13.26" fill="#06680d"/>
<rect x="1392.5" y="220.24" width="17.0" height="13.26" fill="#468012"/>
<rect x="1392.5" y="207.89" width="17.0" height="13.26" fill="#a6a80e"/>
<rect x="1392.5" y="195.53" width="17.0" height="13.26" fill="#ffd700"/>
<rect x="1392.5" y="183.17" width="17.0" height="13.26" fill="#ffb400"/>
<rect x="1392.5" y="170.81" width="17.0" height="13.26" fill="#ff9900"/>
<rect x="1392.5" y="158.46" width="17.0" height="13.26" fill="#ff8200"/>
<rect x="1392.5" y="146.10" width="17.0" height="13.26" fill="#e60000"/>
<rect x="1392.5" y="133.74" width="17.0" height="13.26" fill="#c30000"/>
<rect x="1392.5" y="121.39" width="17.0" height="13.26" fill="#a00000"/>
<rect x="1392.5" y="109.03" width="17.0" height="13.26" fill="#780000"/>
<rect x="1392.5" y="96.67" width="17.0" height="13.26" fill="#ffe1ff"/>
<rect x="1392.5" y="84.31" width="17.0" height="13.26" fill="#ffbeff"/>
<rect x="1392.5" y="71.96" width="17.0" height="13.26" fill="#ff6eff"/>
<rect x="1392.5" y="59.60" width="17.0" height="13.26" fill="#e63ce6"/>
</g>
<rect x="1392.5" y="60.5" width="17.0" height="345.4" fill="none" stroke="#000" stroke-width="1.1"/>
<g stroke="#000" stroke-width="1.1">
<line x1="1409.5" y1="405.9" x2="1414.5" y2="405.9"/>
<line x1="1409.5" y1="357.5" x2="1414.5" y2="357.5"/>
<line x1="1409.5" y1="307.5" x2="1414.5" y2="307.5"/>
<line x1="1409.5" y1="258.5" x2="1414.5" y2="258.5"/>
<line x1="1409.5" y1="208.5" x2="1414.5" y2="208.5"/>
<line x1="1409.5" y1="159.5" x2="1414.5" y2="159.5"/>
<line x1="1409.5" y1="109.5" x2="1414.5" y2="109.5"/>
<line x1="1409.5" y1="60.5" x2="1414.5" y2="60.5"/>
</g>
<g font-size="21.8">
<text x="1419.0" y="415.3">0</text>
<text x="1419.0" y="365.9">10</text>
<text x="1419.0" y="316.4">20</text>
<text x="1419.0" y="267.0">30</text>
<text x="1419.0" y="217.6">40</text>
<text x="1419.0" y="168.2">50</text>
<text x="1419.0" y="118.7">60</text>
<text x="1419.0" y="69.3">70</text>
</g>
<text transform="translate(1469,236.6) rotate(-90)" font-size="21.4" text-anchor="middle">dBZ</text>
</svg></body></html>
